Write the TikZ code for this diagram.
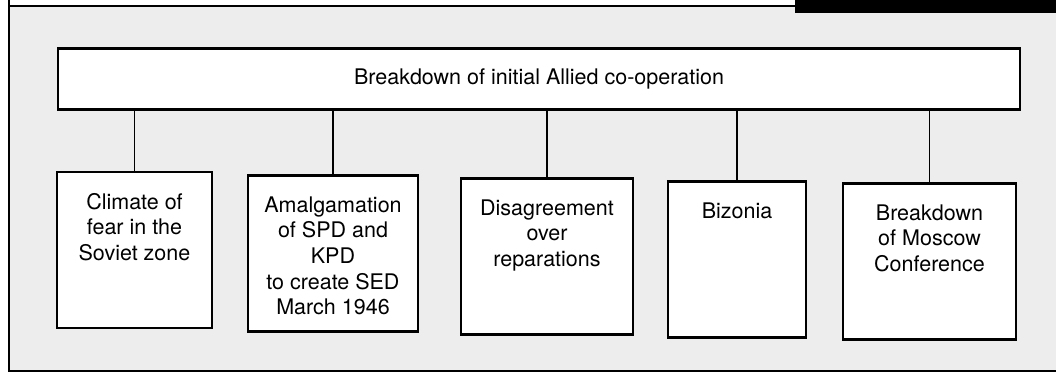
\documentclass[tikz,border=0pt]{standalone}
\usepackage{fontspec}
\setmainfont{TeX Gyre Heros}
\usepackage{xcolor}
\usepackage{tikz}
\usetikzlibrary{positioning}

\newcommand{\cellfont}{\fontsize{10.75pt}{12.8pt}\selectfont}

\begin{document}
\begin{tikzpicture}[
  x=0.5pt, y=-0.5pt,
  backdrop/.style={fill=black!7},
  rim/.style={line width=1.3pt},
  cell/.style={draw, line width=1.2pt, fill=white, inner sep=0pt, minimum height=78pt},
  celltext/.style={font=\cellfont, align=center, inner sep=0pt},
  link/.style={line width=0.8pt},
]
  \useasboundingbox (0,0) rectangle (1056,377);

  % Frame and page tab
  \fill[backdrop] (9,6) rectangle (1056,371);
  \draw[rim] (1056,6) -- (9,6);
  \draw[rim] (9,0) -- (9,371) -- (1056,371);
  \fill[black] (795,0) rectangle (1056,13);

  % Main heading
  \node[cell, minimum width=481pt, minimum height=30.5pt, font=\cellfont] (allied) at (539,79)
    {Breakdown of initial Allied co-operation};

  % Causes
  \node[cell, minimum width=77.5pt] (climate) at (134.5,250) {};
  \node[cell, minimum width=85pt] (amalg) at (333,253.5) {};
  \node[cell, minimum width=86pt] (disagree) at (547,256.5) {};
  \node[cell, minimum width=69pt] (bizonia) at (737,259.5) {};
  \node[cell, minimum width=86.5pt] (moscow) at (929.5,261.5) {};

  \node[celltext, below=11pt of climate.north] (climatetxt) {Climate of\\fear in the\\Soviet zone};
  \node[celltext, below=11pt of amalg.north] (amalgtxt) {Amalgamation\\of SPD and\\KPD\\to create SED\\March 1946};
  \node[celltext, below=11pt of disagree.north] (disagreetxt) {Disagreement\\over\\reparations};
  \node[celltext, below=11pt of bizonia.north] (bizoniatxt) {Bizonia};
  \node[celltext, below=11pt of moscow.north] (moscowtxt) {Breakdown\\of Moscow\\Conference};

  % Links to heading
  \foreach \b in {climate, amalg, disagree, bizonia, moscow}
    \draw[link] (\b.north) -- (\b.north |- allied.south);

\end{tikzpicture}
\end{document}
